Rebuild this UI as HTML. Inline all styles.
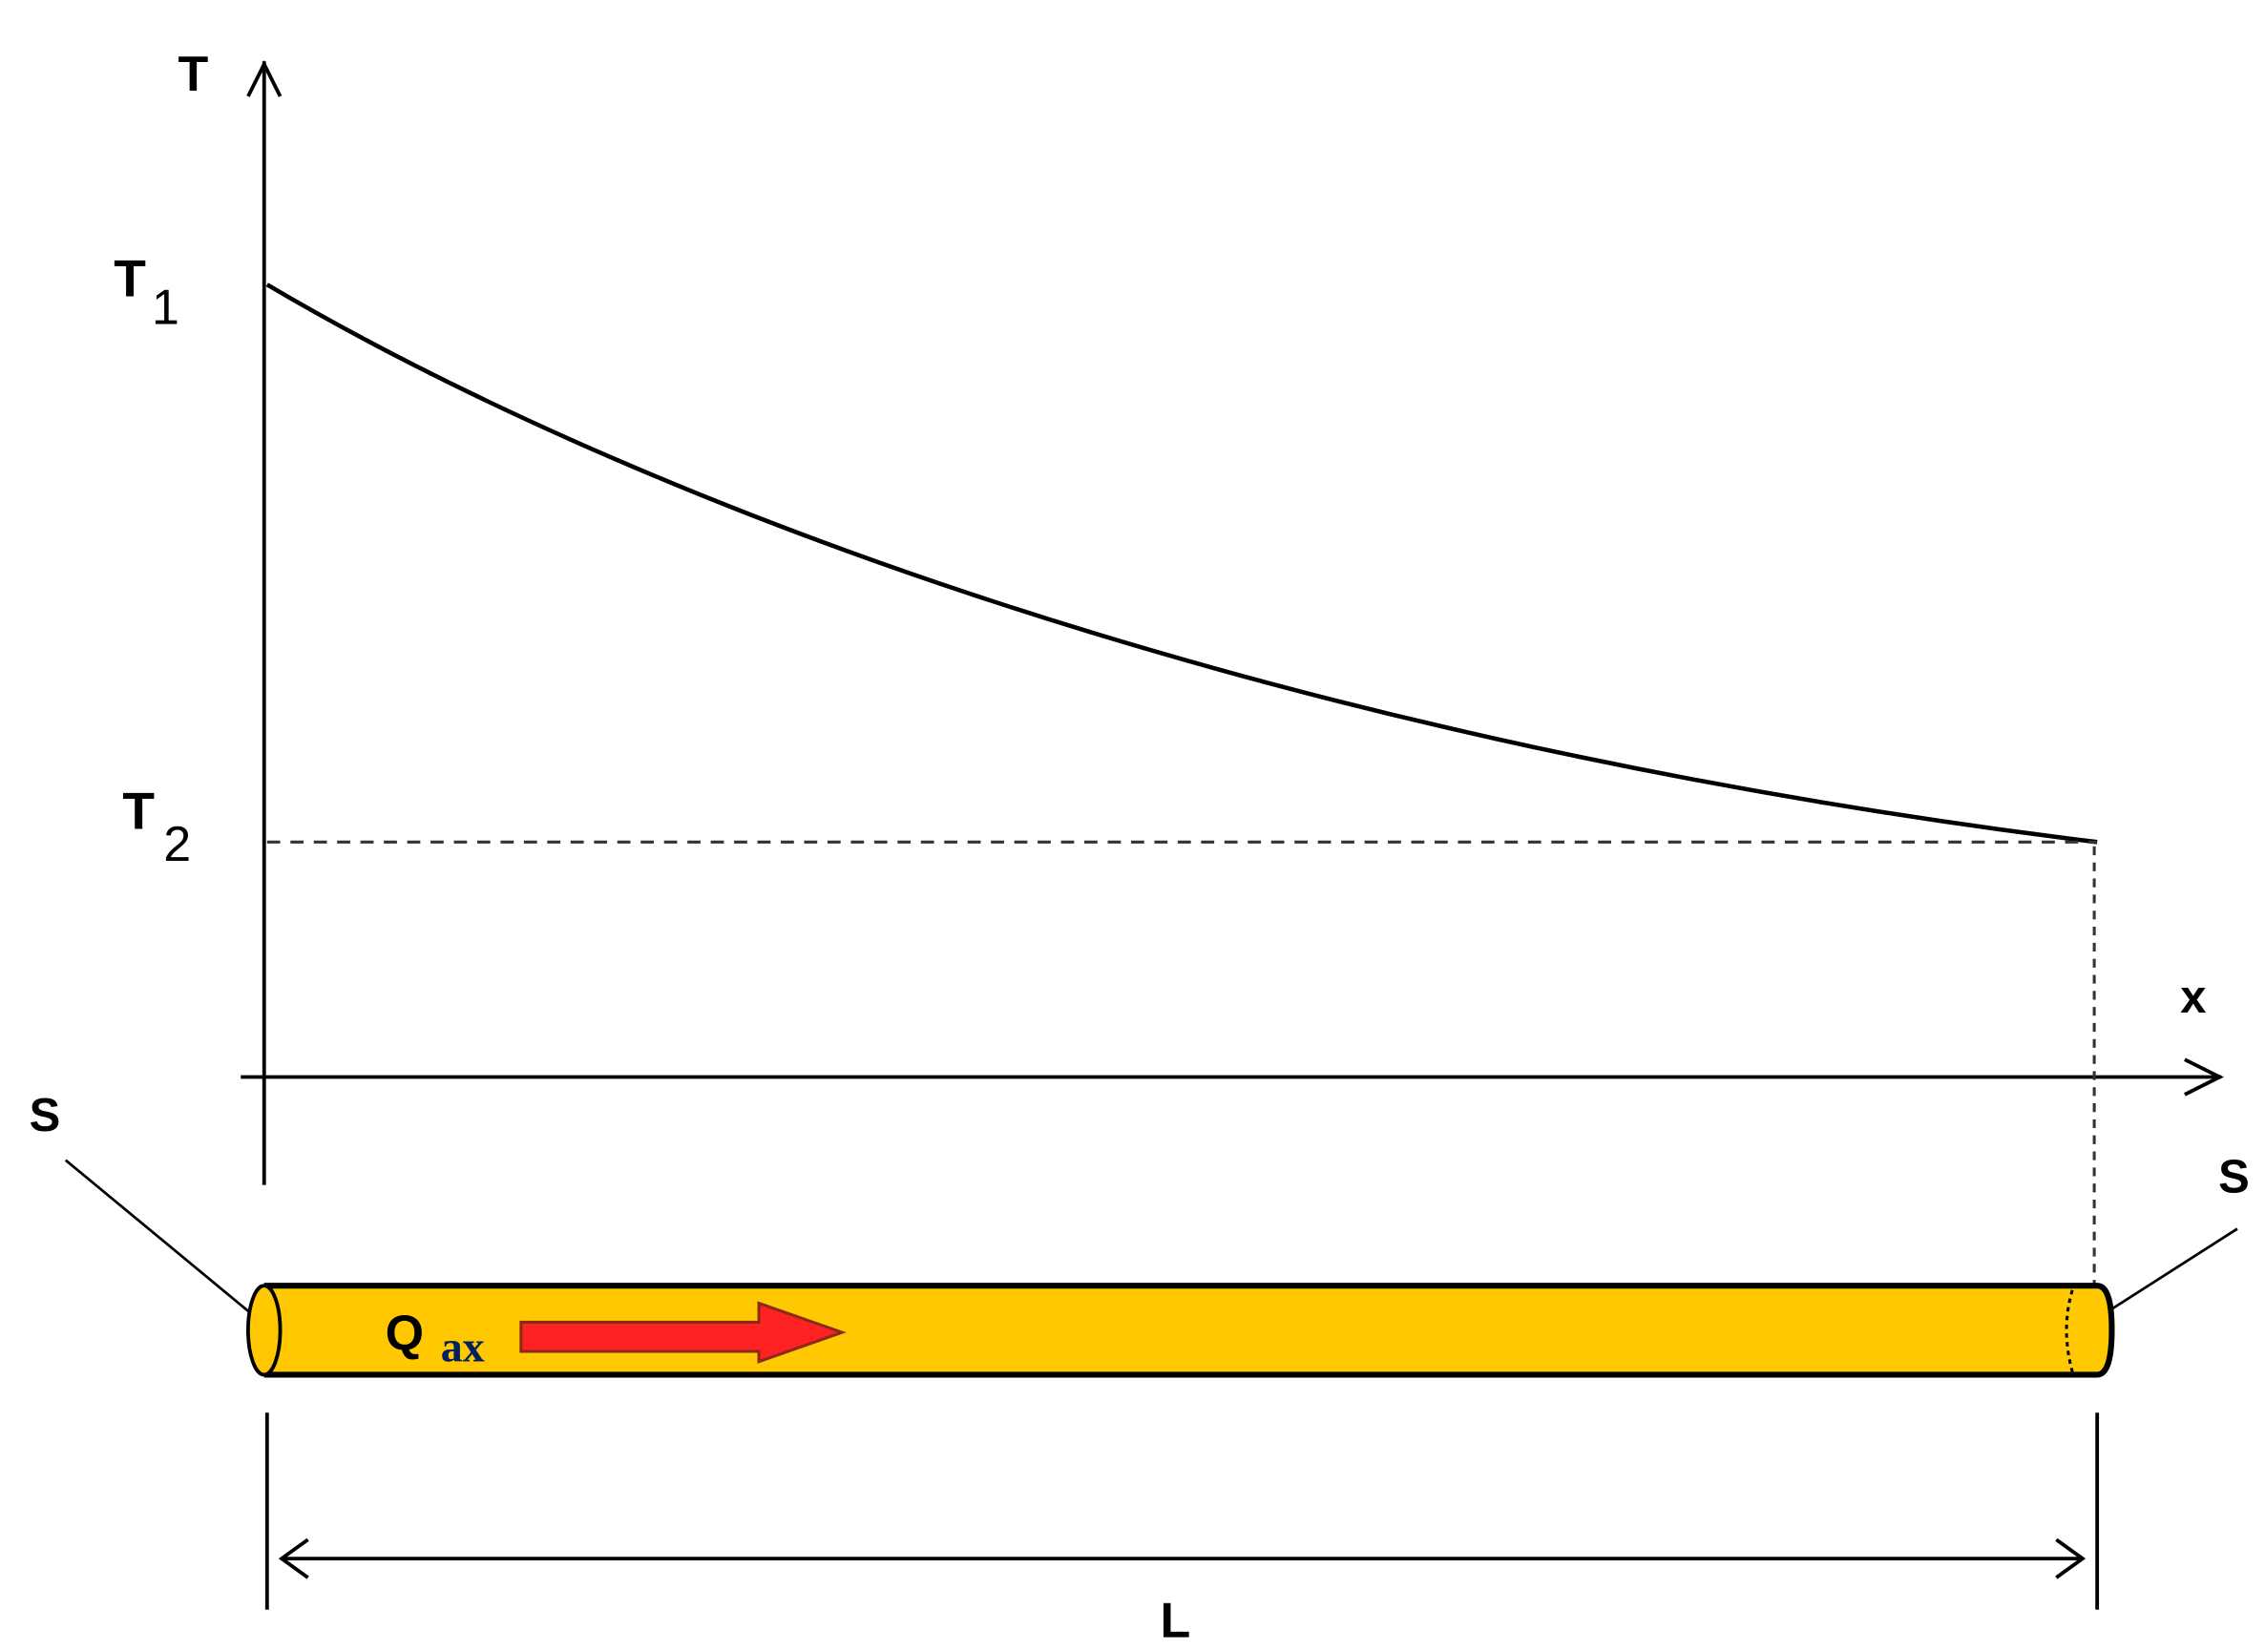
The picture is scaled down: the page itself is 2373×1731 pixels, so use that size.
<!DOCTYPE html>
<html><head><style>html,body{margin:0;padding:0;background:#fff}svg{display:block}</style></head>
<body>
<svg width="2373" height="1731" viewBox="0 0 1552 1132" preserveAspectRatio="none" xmlns="http://www.w3.org/2000/svg">
<g stroke="#000" fill="none">
<line x1="181" y1="42" x2="181" y2="812" stroke-width="2.5"/>
<polyline points="170,66 181,44 192,66" stroke-width="2.5"/>
<line x1="165" y1="738" x2="1522" y2="738" stroke-width="2.5"/>
<polyline points="1497,726 1521,738 1497,750" stroke-width="2.5"/>
<path d="M183,195 C420,335 850,505 1437,577" stroke-width="3"/>
<line x1="183" y1="577" x2="1437" y2="577" stroke="#333" stroke-width="2" stroke-dasharray="9,7"/>
<line x1="1435" y1="580" x2="1435" y2="880" stroke="#333" stroke-width="2" stroke-dasharray="6,5"/>
<line x1="45" y1="795" x2="172" y2="900" stroke-width="1.8"/>
<line x1="1533" y1="842" x2="1447" y2="897" stroke-width="1.8"/>
<path d="M181,881 L1437,881 Q1447,881 1447,911 Q1447,942 1437,942 L181,942" fill="#ffc800" stroke-width="4"/>
<ellipse cx="181" cy="911.5" rx="11" ry="30.5" fill="#ffc800" stroke-width="2.5"/>
<path d="M1420,884 Q1412,911 1420,940" stroke-width="2" stroke-dasharray="3,3"/>
<polygon points="357,906 520,906 520,893 577,913 520,933 520,926 357,926" fill="#f22" stroke="#8a2a1a" stroke-width="2"/>
<line x1="183" y1="968" x2="183" y2="1103" stroke-width="2.5"/>
<line x1="1437" y1="968" x2="1437" y2="1103" stroke-width="2.5"/>
<line x1="193" y1="1068" x2="1427" y2="1068" stroke-width="2.5"/>
<polyline points="211,1055 193,1068 211,1081" stroke-width="2.5"/>
<polyline points="1409,1055 1427,1068 1409,1081" stroke-width="2.5"/>
</g>
<g font-family="Liberation Sans, sans-serif" font-weight="bold" fill="#000">
<text x="122" y="62" font-size="34">T</text>
<text x="78" y="203" font-size="36">T</text>
<text x="104" y="222" font-size="34" font-weight="normal">1</text>
<text x="84" y="568" font-size="36">T</text>
<text x="112" y="590" font-size="34" font-weight="normal">2</text>
<text x="1494" y="694" font-size="32">x</text>
<text x="20" y="775" font-size="32">S</text>
<text x="1520" y="817" font-size="32">S</text>
<text x="795" y="1122" font-size="34">L</text>
<text x="264" y="925" font-size="34">Q</text>
<text x="302" y="933" font-size="30" font-family="Liberation Serif, serif" fill="#002060">ax</text>
</g>
</svg>
</body></html>
